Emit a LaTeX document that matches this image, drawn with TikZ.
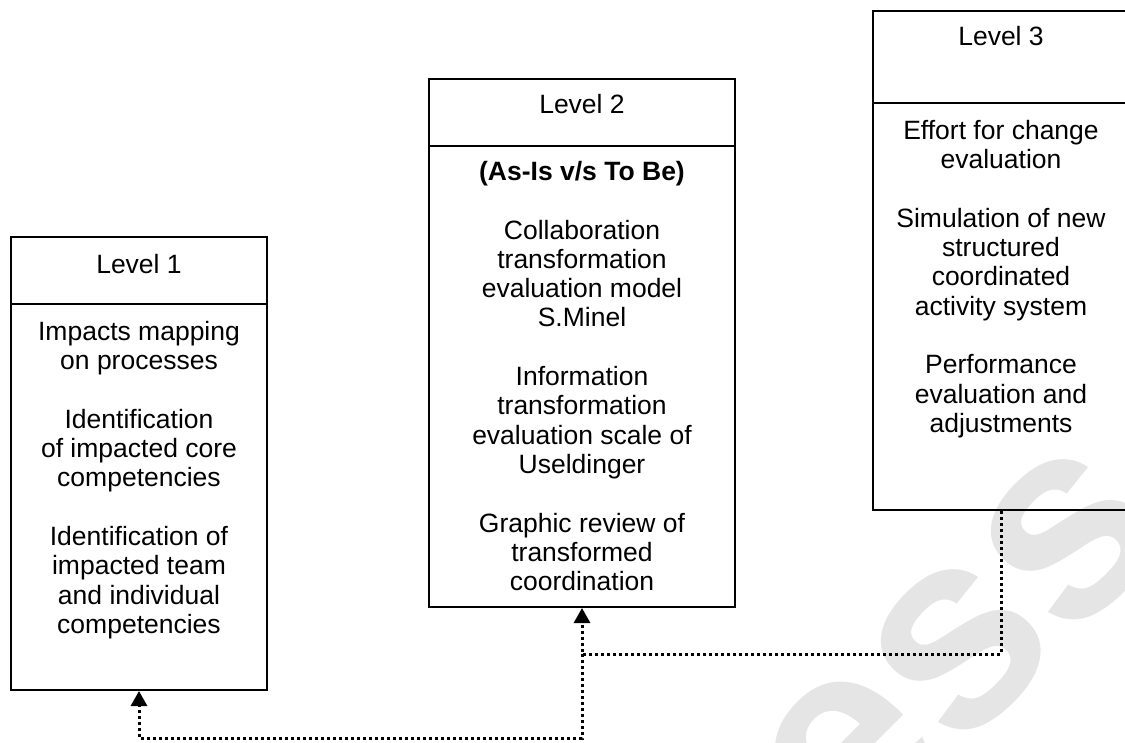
\documentclass[tikz,border=0pt]{standalone}
\usepackage{fontspec}
\setmainfont{Liberation Sans}
\usetikzlibrary{arrows.meta}
\tikzset{
  box/.style={draw=black, line width=2pt, rectangle, inner sep=0pt, fill=none},
  divider/.style={draw=black, line width=2pt},
  head/.style={anchor=base, inner sep=0pt, font=\fontsize{26.5}{29.3}\selectfont},
  body/.style={anchor=north, inner sep=0pt, align=center, font=\fontsize{26.5}{29.3}\selectfont},
  conn/.style={draw=black, line width=3pt, dash pattern=on 3pt off 3pt, -{Triangle[length=15pt,width=16pt]}},
  wm/.style={text=black!10, font=\fontsize{280}{280}\selectfont\bfseries, rotate=45, inner sep=0pt}
}
\begin{document}
\begin{tikzpicture}[x=1pt, y=-1pt]
\useasboundingbox (0,0) rectangle (1125,742);
\clip (0,0) rectangle (1125,742);
\fill[white] (0,0) rectangle (1125,742);
% faint watermark
\node[wm] (wmark) at (960,648) {ess};
% boxes
\node[box, minimum width=256pt, minimum height=453pt] (box1) at (139,463.5) {};
\node[box, minimum width=306pt, minimum height=528pt] (box2) at (582,343) {};
\node[box, minimum width=256pt, minimum height=499pt] (box3) at (1001,260.5) {};
\draw[divider] ([yshift=-68pt]box1.north west) -- ([yshift=-68pt]box1.north east);
\draw[divider] ([yshift=-68pt]box2.north west) -- ([yshift=-68pt]box2.north east);
\draw[divider] ([yshift=-93pt]box3.north west) -- ([yshift=-93pt]box3.north east);
% headers
\node[head] (h1) at (139,273) {Level 1};
\node[head] (h2) at (582,113) {Level 2};
\node[head] (h3) at (1001,45) {Level 3};
% bodies
\node[body] (t1) at (139,321) {Impacts mapping\\on processes\\[29.3pt]Identification\\of impacted core\\competencies\\[29.3pt]Identification of\\impacted team\\and individual\\competencies};
\node[body] (t2) at (582,161) {\textbf{(As-Is v/s To Be)}\\[29.3pt]Collaboration\\transformation\\evaluation model\\S.Minel\\[29.3pt]Information\\transformation\\evaluation scale of\\Useldinger\\[29.3pt]Graphic review of\\transformed\\coordination};
\node[body] (t3) at (1001,120) {Effort for change\\evaluation\\[29.3pt]Simulation of new\\structured\\coordinated\\activity system\\[29.3pt]Performance\\evaluation and\\adjustments};
% connectors
\coordinate (j) at (582,654);
\coordinate (b) at (582,738);
\draw[conn] (box3.south) |- (j) -- (box2.south);
\draw[conn] (j) -- (b) -| (box1.south);
\end{tikzpicture}
\end{document}
